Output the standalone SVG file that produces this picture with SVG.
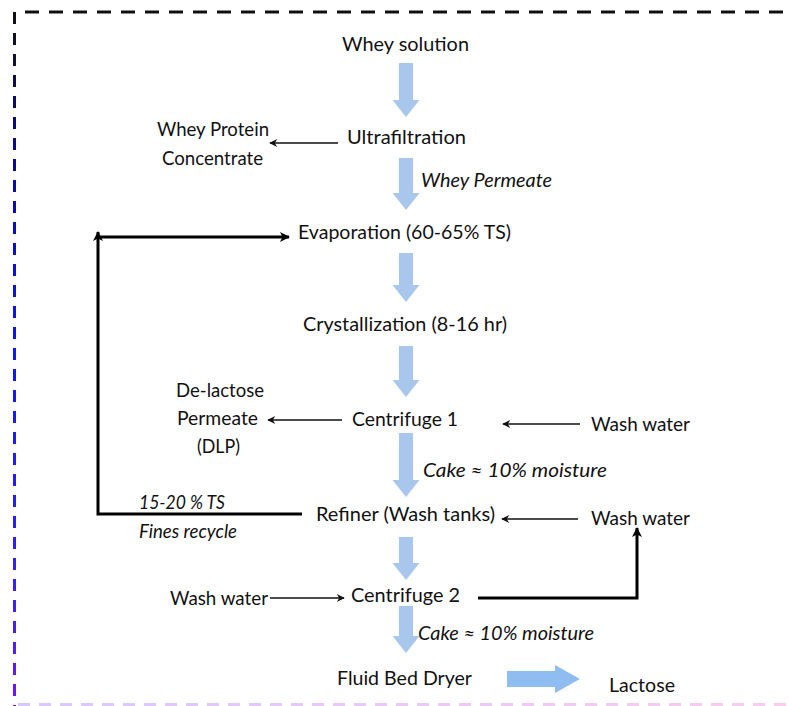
<svg xmlns="http://www.w3.org/2000/svg" width="789" height="706" viewBox="0 0 789 706">
<defs>
<style>
text{font-family:Lato,"Open Sans","Liberation Sans",sans-serif;font-size:20px;fill:#111}
.it{font-style:italic}
.blue{fill:#a9c7ec}
.thin{stroke:#111;stroke-width:1.6;fill:none}
.thick{stroke:#000;stroke-width:3;fill:none}
</style>
<marker id="ah" viewBox="0 0 10 10" refX="9" refY="5" markerWidth="9" markerHeight="8" markerUnits="userSpaceOnUse" orient="auto"><path d="M0,0 L10,5 L0,10 L3,5 Z" fill="#111"/></marker>
<marker id="ahb" viewBox="0 0 10 10" refX="9" refY="5" markerWidth="12" markerHeight="10" markerUnits="userSpaceOnUse" orient="auto"><path d="M0,0 L10,5 L0,10 L2.5,5 Z" fill="#000"/></marker>
<linearGradient id="lg" gradientUnits="userSpaceOnUse" x1="0" y1="12" x2="0" y2="706">
<stop offset="0" stop-color="#111"/><stop offset="0.2" stop-color="#0a0a90"/><stop offset="0.5" stop-color="#0a18ff"/><stop offset="0.85" stop-color="#3a20ff"/><stop offset="1" stop-color="#7a10ff"/>
</linearGradient>
<linearGradient id="bg" gradientUnits="userSpaceOnUse" x1="15" y1="0" x2="789" y2="0">
<stop offset="0" stop-color="#c8b0ff"/><stop offset="1" stop-color="#f8b8e6"/>
</linearGradient>
<path id="va" d="M-7,0 H7 V-17 H13.5 L0,0 L-13.5,-17 H-7 Z"/>
</defs>
<rect width="789" height="706" fill="#fff"/>
<g id="border">
<line x1="25" y1="12" x2="789" y2="12" stroke="#111" stroke-width="3.2" stroke-dasharray="14 10"/>
<line x1="14.5" y1="12" x2="14.5" y2="706" stroke="url(#lg)" stroke-width="3" stroke-dasharray="12 9"/>
<line x1="18" y1="704.5" x2="789" y2="704.5" stroke="url(#bg)" stroke-width="3" stroke-dasharray="12 9" opacity="0.7"/>
</g>
<g id="connectors">
<path class="blue" d="M399,63 H413 V100 H419.5 L406,117 L392.5,100 H399 Z"/>
<path class="blue" d="M399,158 H413 V193 H419.5 L406,210 L392.5,193 H399 Z"/>
<path class="blue" d="M399,253 H413 V285 H419.5 L406,302 L392.5,285 H399 Z"/>
<path class="blue" d="M399,346 H413 V380 H419.5 L406,397 L392.5,380 H399 Z"/>
<path class="blue" d="M399,433 H413 V480 H419.5 L406,497 L392.5,480 H399 Z"/>
<path class="blue" d="M399,537 H413 V563 H419.5 L406,580 L392.5,563 H399 Z"/>
<path class="blue" d="M399,606 H413 V636 H419.5 L406,653 L392.5,636 H399 Z"/>
<path d="M507,671 H555 V665 L580,679 L555,693 V687 H507 Z" fill="#8fbdf2"/>
<line class="thin" x1="338" y1="143" x2="270" y2="143" marker-end="url(#ah)"/>
<line class="thin" x1="342" y1="420" x2="268" y2="420" marker-end="url(#ah)"/>
<line class="thin" x1="580" y1="424" x2="503" y2="424" marker-end="url(#ah)"/>
<line class="thin" x1="578" y1="519" x2="502" y2="519" marker-end="url(#ah)"/>
<line class="thin" x1="270" y1="598" x2="344" y2="598" marker-end="url(#ah)"/>
<path class="thick" d="M302,514 H98 V232" marker-end="url(#ahb)"/>
<line class="thick" x1="98" y1="237" x2="289" y2="237" marker-end="url(#ahb)"/>
<path class="thick" d="M478,598 H637 V528" marker-end="url(#ahb)"/>
</g>
<g id="whey-solution"><text x="342" y="51" textLength="127" lengthAdjust="spacingAndGlyphs">Whey solution</text></g>
<g id="ultrafiltration"><text x="347" y="144" textLength="119" lengthAdjust="spacingAndGlyphs">Ultrafiltration</text></g>
<g id="wpc"><text x="157" y="136" textLength="112" lengthAdjust="spacingAndGlyphs">Whey Protein</text><text x="162" y="165" textLength="101" lengthAdjust="spacingAndGlyphs">Concentrate</text></g>
<g id="whey-permeate"><text class="it" x="421" y="187" textLength="131" lengthAdjust="spacingAndGlyphs">Whey Permeate</text></g>
<g id="evaporation"><text x="298" y="239" textLength="213" lengthAdjust="spacingAndGlyphs">Evaporation (60-65% TS)</text></g>
<g id="crystallization"><text x="303" y="331" textLength="204" lengthAdjust="spacingAndGlyphs">Crystallization (8-16 hr)</text></g>
<g id="dlp"><text x="176" y="397" textLength="88" lengthAdjust="spacingAndGlyphs">De-lactose</text><text x="177" y="425" textLength="81" lengthAdjust="spacingAndGlyphs">Permeate</text><text x="197" y="453" textLength="43" lengthAdjust="spacingAndGlyphs">(DLP)</text></g>
<g id="centrifuge1"><text x="352" y="426" textLength="106" lengthAdjust="spacingAndGlyphs">Centrifuge 1</text></g>
<g id="wash-water-1"><text x="591" y="431" textLength="99" lengthAdjust="spacingAndGlyphs">Wash water</text></g>
<g id="cake-1"><text class="it" x="423" y="477" textLength="184" lengthAdjust="spacingAndGlyphs">Cake ≈ 10% moisture</text></g>
<g id="refiner"><text x="316" y="521" textLength="179" lengthAdjust="spacingAndGlyphs">Refiner (Wash tanks)</text></g>
<g id="wash-water-2"><text x="591" y="525" textLength="99" lengthAdjust="spacingAndGlyphs">Wash water</text></g>
<g id="fines"><text class="it" x="139" y="509" textLength="86" lengthAdjust="spacingAndGlyphs">15-20 % TS</text><text class="it" x="139" y="538" textLength="98" lengthAdjust="spacingAndGlyphs">Fines recycle</text></g>
<g id="wash-water-3"><text x="170" y="605" textLength="98" lengthAdjust="spacingAndGlyphs">Wash water</text></g>
<g id="centrifuge2"><text x="351" y="602" textLength="109" lengthAdjust="spacingAndGlyphs">Centrifuge 2</text></g>
<g id="cake-2"><text class="it" x="418" y="640" textLength="176" lengthAdjust="spacingAndGlyphs">Cake ≈ 10% moisture</text></g>
<g id="dryer"><text x="337" y="685" textLength="135" lengthAdjust="spacingAndGlyphs">Fluid Bed Dryer</text></g>
<g id="lactose"><text x="609" y="692" textLength="66" lengthAdjust="spacingAndGlyphs">Lactose</text></g>
</svg>
